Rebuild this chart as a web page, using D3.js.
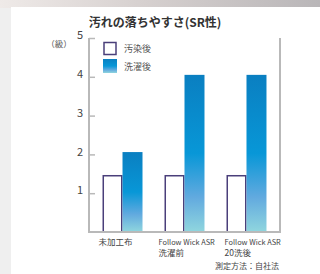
<!DOCTYPE html>
<html><head><meta charset="utf-8">
<script src="https://cdn.jsdelivr.net/npm/d3@7"></script>
<style>
html,body{margin:0;padding:0;background:#efefef;}
svg{display:block;}
text{font-family:"Noto Sans CJK JP","Noto Sans",sans-serif;}
</style></head>
<body>
<svg id="c" width="320" height="274"></svg>
<script>
const categories = ["未加工布", "Follow Wick ASR|洗濯前", "Follow Wick ASR|20洗後"];
const afterStain = [1.45, 1.45, 1.45];
const afterWash = [2.06, 4.05, 4.05];
const yTicks = [1, 2, 3, 4, 5];
const seriesNames = ["汚染後", "洗濯後"];
const title = "汚れの落ちやすさ(SR性)";
const unitLabel = "（級）";
const note = "測定方法：自社法";

const svg = d3.select("#c");
const defs = svg.append("defs");
const bg = defs.append("linearGradient").attr("id","topband").attr("x1",0).attr("x2",1).attr("y1",0).attr("y2",0);
bg.append("stop").attr("offset","0%").attr("stop-color","#efeae8");
bg.append("stop").attr("offset","45%").attr("stop-color","#d6d0cf");
bg.append("stop").attr("offset","100%").attr("stop-color","#b9b6b8");
const g = defs.append("linearGradient").attr("id","blue").attr("x1",0).attr("x2",0).attr("y1",0).attr("y2",1);
g.append("stop").attr("offset","0%").attr("stop-color","#0a7fc1");
g.append("stop").attr("offset","50%").attr("stop-color","#0897d7");
g.append("stop").attr("offset","78%").attr("stop-color","#62aadf");
g.append("stop").attr("offset","100%").attr("stop-color","#90d6de");

svg.append("rect").attr("x",0).attr("y",0).attr("width",320).attr("height",8).attr("fill","url(#topband)");
svg.append("rect").attr("x",11).attr("y",7).attr("width",309).attr("height",267).attr("fill","#ffffff");

const x = d3.scaleBand().domain(categories).range([89, 280]).paddingInner(0.355).paddingOuter(0.218);
const y = d3.scaleLinear().domain([0, 5]).range([232, 38]);
const sub = d3.scaleBand().domain(seriesNames).range([0, x.bandwidth()]);

const axisColor = "#b9b9b9";
svg.append("line").attr("x1",89).attr("x2",89).attr("y1",y(5)).attr("y2",y(0)+1).attr("stroke",axisColor).attr("stroke-width",2);
svg.append("line").attr("x1",280).attr("x2",280).attr("y1",y(5)).attr("y2",y(0)+1).attr("stroke",axisColor).attr("stroke-width",2);

const groups = svg.selectAll("g.grp").data(categories).join("g").attr("class","grp");
groups.append("rect")
  .attr("x", (d,i)=>x(d)+0.75)
  .attr("y", (d,i)=>y(afterStain[i]))
  .attr("width", sub.bandwidth()-1.5)
  .attr("height", (d,i)=>y(0)-y(afterStain[i]))
  .attr("fill","#fff").attr("stroke","#4a3f7a").attr("stroke-width",1.5);
groups.append("rect")
  .attr("x", (d,i)=>x(d)+sub.bandwidth())
  .attr("y", (d,i)=>y(afterWash[i]))
  .attr("width", sub.bandwidth())
  .attr("height", (d,i)=>y(0)-y(afterWash[i]))
  .attr("fill","url(#blue)");

svg.append("line").attr("x1",88).attr("x2",281).attr("y1",y(0)).attr("y2",y(0)).attr("stroke",axisColor).attr("stroke-width",2);

const ya = svg.append("g").attr("transform","translate(89,0)")
  .call(d3.axisRight(y).tickValues(yTicks).tickSize(6).tickFormat(""));
ya.select(".domain").remove();
ya.selectAll("line").attr("stroke",axisColor).attr("stroke-width",1.5);
svg.selectAll("text.yl").data(yTicks).join("text").attr("class","yl")
  .attr("x",83).attr("y",d=>y(d)).attr("dy","0.1em")
  .attr("text-anchor","end").attr("font-size",11).attr("fill","#444").text(d=>d);

svg.append("text").attr("x",59).attr("y",47).attr("text-anchor","middle")
  .attr("font-size",8.5).attr("fill","#555").text(unitLabel);

svg.append("text").attr("x",155).attr("y",27).attr("text-anchor","middle")
  .attr("font-size",12).attr("font-weight","bold").attr("fill","#333").text(title);

svg.append("rect").attr("x",104).attr("y",42.5).attr("width",12).attr("height",12)
  .attr("fill","#fff").attr("stroke","#4a3f7a").attr("stroke-width",1.5);
svg.append("rect").attr("x",103).attr("y",59).attr("width",14).attr("height",14).attr("fill","url(#blue)");
svg.selectAll("text.lg").data(seriesNames).join("text").attr("class","lg")
  .attr("x",124).attr("y",(d,i)=>48.5+i*18).attr("dy","0.35em")
  .attr("font-size",9).attr("fill","#555").text(d=>d);

categories.forEach((c,i)=>{
  const lines = c.split("|");
  const offs = [-4,-6,-2];
  const t = svg.append("text").attr("x",x(c)+offs[i]).attr("y",245).attr("fill","#444");
  lines.forEach((l,j)=>{
    const latin = /^[\x00-\x7F]+$/.test(l);
    t.append("tspan").attr("x",x(c)+offs[i]).attr("dy", j===0?0:11)
      .attr("font-size", latin ? 7.4 : 8.5).text(l);
  });
});

svg.append("text").attr("x",279).attr("y",269).attr("text-anchor","end")
  .attr("font-size",8).attr("fill","#444").text(note);
</script>
</body></html>
